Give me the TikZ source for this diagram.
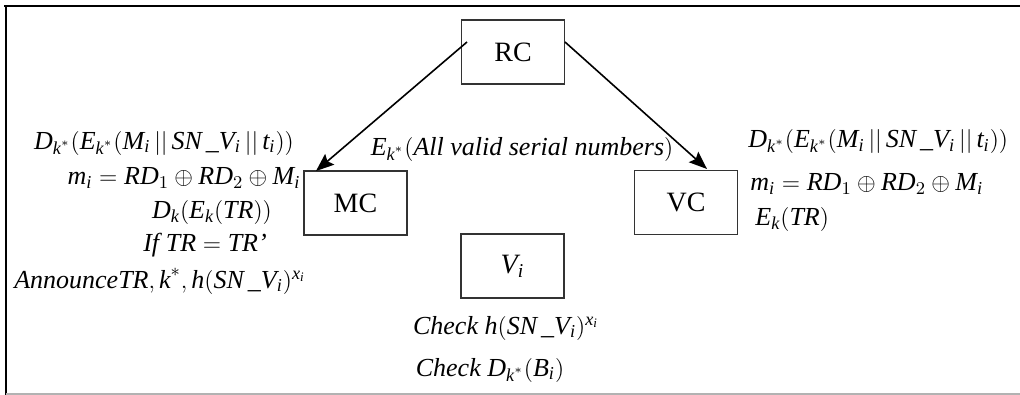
\documentclass[tikz,border=0pt]{standalone}
\usepackage{amsmath}
\usepackage{fontspec}
\setmainfont{Liberation Serif}
\usetikzlibrary{arrows.meta}
\newcommand\mi[1]{\textit{#1}}
\begin{document}
\begin{tikzpicture}[x=0.5pt,y=-0.5pt,
  boxnode/.style={draw=black!80,line width=0.6pt,minimum width=51.5pt,minimum height=32pt,inner sep=0pt,font=\fontsize{14}{16}\selectfont},
  mtext/.style={inner sep=0pt,font=\fontsize{13}{15}\selectfont},
  arr/.style={line width=0.8pt,-{Stealth[length=9pt,width=7pt,inset=1.5pt]}}]
\useasboundingbox (0,0) rectangle (1020,395);
% frame
\draw[line width=1.4pt,black] (4,6) -- (1020,6);
\draw[line width=1.4pt,black] (6,6) -- (6,395);
\draw[line width=0.8pt,black!30] (6,394) -- (1020,394);
% boxes
\node[boxnode] (rc) at (513,52) {RC};
\node[boxnode] (mc) at (355.5,203) {MC};
\node[boxnode] (vc) at (686,202.5) {VC};
\node[boxnode] (vi) at (512.5,266) {$\mi{V}_{\mi{i}}$};
% arrows
\coordinate (rcl) at (467,42);
\coordinate (rcr) at (565,42);
\coordinate (mct) at (316,171);
\coordinate (vct) at (707,169);
\draw[arr] (rcl) -- (mct);
\draw[arr] (rcr) -- (vct);
% left texts
\node[mtext] (l1) at (164,143) {$\mi{D}_{\mi{k}^{*}}(\mi{E}_{\mi{k}^{*}}(\mi{M}_{\mi{i}}\,||\,\mi{SN}\,\_\mi{V}_{\mi{i}}\,||\,\mi{t}_{\mi{i}}))$};
\node[mtext] (l2) at (184,178) {$\mi{m}_{\mi{i}}=\mi{RD}_{1}\oplus\mi{RD}_{2}\oplus\mi{M}_{\mi{i}}$};
\node[mtext] (l3) at (212,212) {$\mi{D}_{\mi{k}}(\mi{E}_{\mi{k}}(\mi{TR}))$};
\node[mtext] (l4) at (205,245) {$\mi{If}\;\mi{TR}=\mi{TR}\textit{'}$};
\node[mtext] (l5) at (160,281) {$\mi{AnnounceTR},\mi{k}^{*},\mi{h}(\mi{SN}\,\_\mi{V}_{\mi{i}})^{\mi{x}_{\mi{i}}}$};
% centre text
\node[mtext] (c1) at (522,149) {$\mi{E}_{\mi{k}^{*}}(\mi{All\ valid\ serial\ numbers})$};
% right texts
\node[mtext,anchor=west] (r1) at (748,142) {$\mi{D}_{\mi{k}^{*}}(\mi{E}_{\mi{k}^{*}}(\mi{M}_{\mi{i}}\,||\,\mi{SN}\,\_\mi{V}_{\mi{i}}\,||\,\mi{t}_{\mi{i}}))$};
\node[mtext,anchor=west] (r2) at (750,184) {$\mi{m}_{\mi{i}}=\mi{RD}_{1}\oplus\mi{RD}_{2}\oplus\mi{M}_{\mi{i}}$};
\node[mtext,anchor=west] (r3) at (755,219) {$\mi{E}_{\mi{k}}(\mi{TR})$};
% bottom texts
\node[mtext] (b1) at (506,328) {$\mi{Check}\;\mi{h}(\mi{SN}\,\_\mi{V}_{\mi{i}})^{\mi{x}_{\mi{i}}}$};
\node[mtext] (b2) at (490,370) {$\mi{Check}\;\mi{D}_{\mi{k}^{*}}(\mi{B}_{\mi{i}})$};
\end{tikzpicture}
\end{document}
